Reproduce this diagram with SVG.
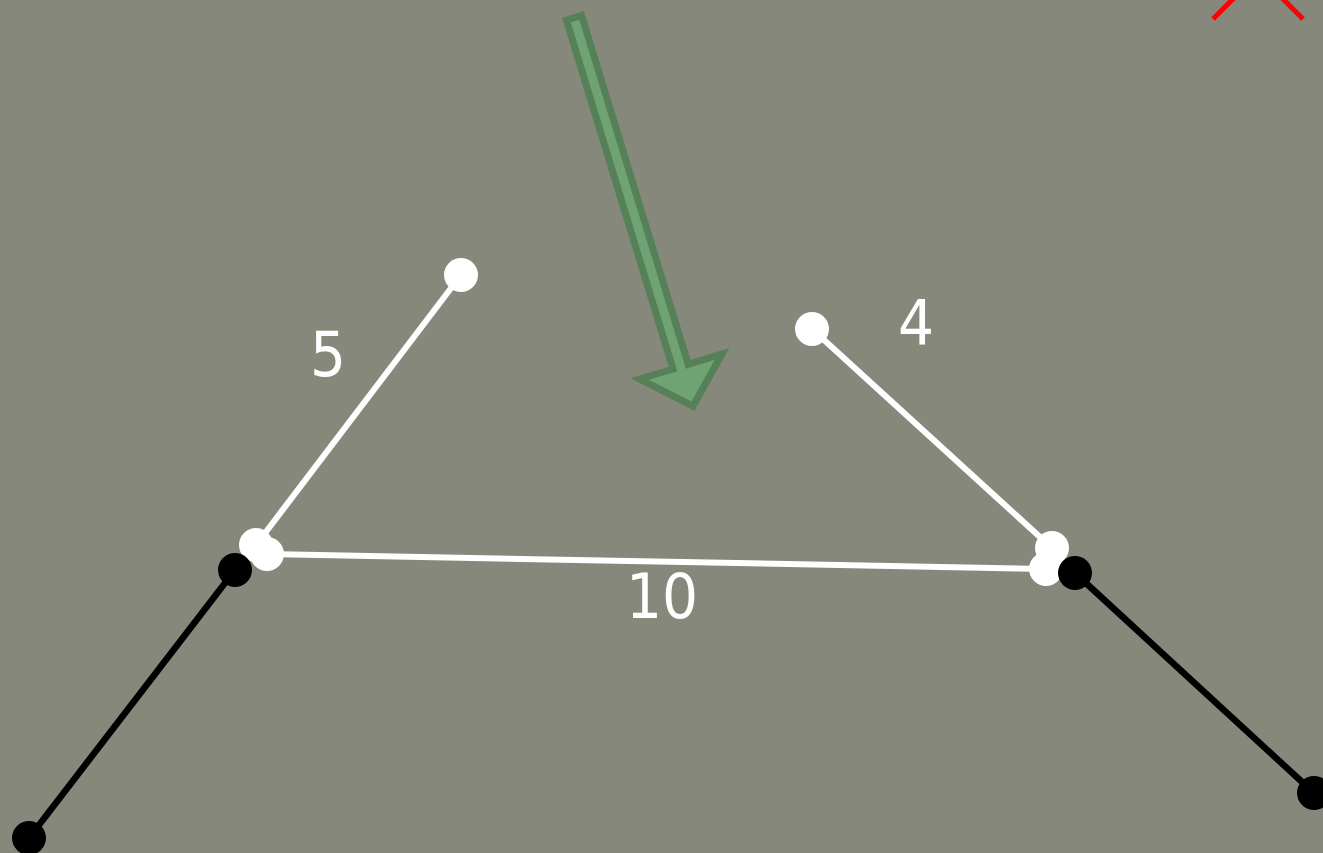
<svg xmlns="http://www.w3.org/2000/svg" width="1323" height="853" viewBox="0 0 1323 853">
<style>
.wl{stroke:#ffffff;stroke-width:6;fill:none;stroke-linecap:round}
.bl{stroke:#000000;stroke-width:6.5;fill:none;stroke-linecap:round}
.wn{fill:#ffffff}
.bn{fill:#000000}
.lbl{font-family:"DejaVu Sans Condensed","DejaVu Sans",sans-serif;font-size:63px;fill:#ffffff;text-anchor:middle}
</style>
<rect x="0" y="0" width="1323" height="853" fill="#85887a"/>
<g id="connectors">
<line class="wl" x1="461" y1="275" x2="256" y2="545"/>
<line class="wl" x1="267" y1="554" x2="1046" y2="569"/>
<line class="wl" x1="812" y1="329" x2="1052" y2="548"/>
<line class="bl" x1="235" y1="570" x2="29" y2="838"/>
<line class="bl" x1="1075" y1="573" x2="1314" y2="793"/>
</g>
<g id="marker-x">
<line x1="1213" y1="19" x2="1258" y2="-26" stroke="#ff0000" stroke-width="5"/>
<line x1="1303" y1="19" x2="1258" y2="-26" stroke="#ff0000" stroke-width="5"/>
</g>
<g id="arrow">
<polygon points="566.4,20.1 581.6,15.5 688.2,364.3 722,354 693,406 640,379 673,369" fill="#6fa374" stroke="#568158" stroke-width="7"/>
</g>
<g id="node-a"><circle class="wn" cx="461" cy="275" r="17"/></g>
<g id="node-b"><circle class="wn" cx="256" cy="545" r="17"/></g>
<g id="node-c"><circle class="wn" cx="267" cy="554" r="17"/></g>
<g id="node-d"><circle class="bn" cx="235" cy="570" r="17"/></g>
<g id="node-e"><circle class="bn" cx="29" cy="838" r="17"/></g>
<g id="node-f"><circle class="wn" cx="812" cy="329" r="17"/></g>
<g id="node-g"><circle class="wn" cx="1052" cy="548" r="17"/></g>
<g id="node-h"><circle class="wn" cx="1046" cy="569" r="17"/></g>
<g id="node-i"><circle class="bn" cx="1075" cy="573" r="17"/></g>
<g id="node-j"><circle class="bn" cx="1314" cy="793" r="17"/></g>
<g id="labels">
<text class="lbl" x="328" y="376">5</text>
<text class="lbl" x="662" y="618">10</text>
<text class="lbl" x="916" y="345">4</text>
</g>
</svg>
